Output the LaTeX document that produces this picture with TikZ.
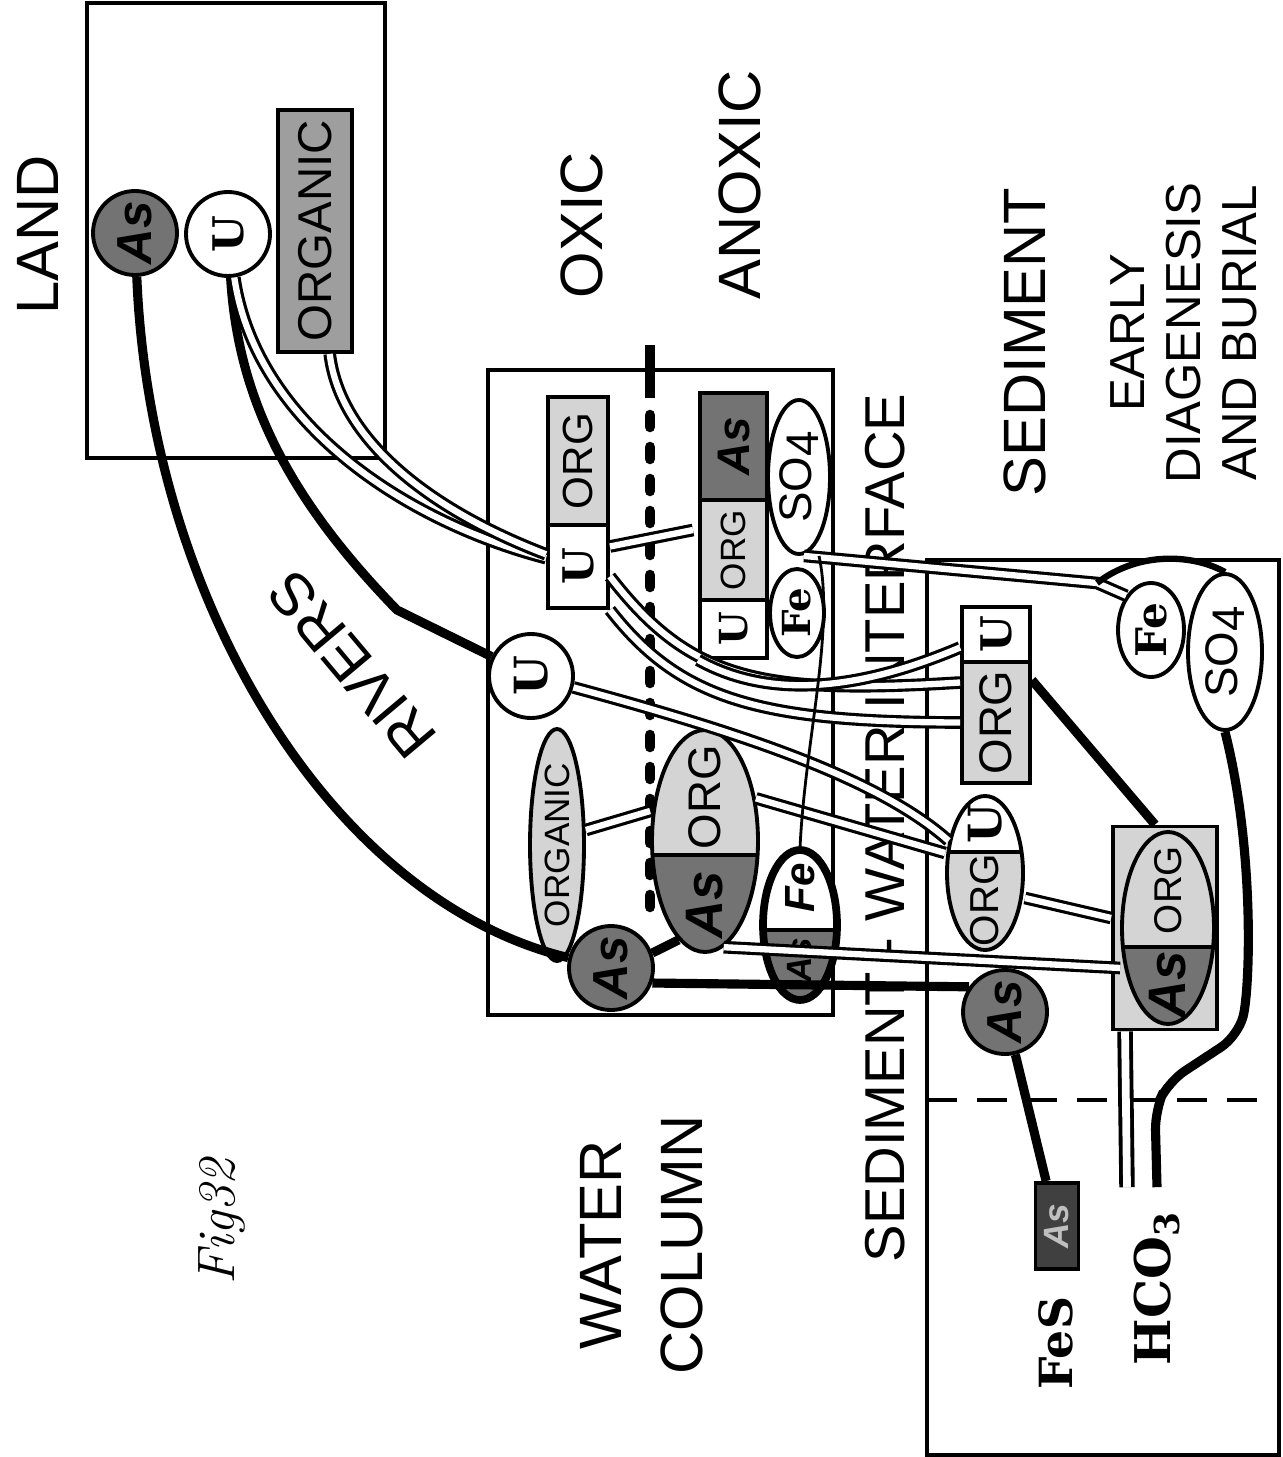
\documentclass[tikz,border=0pt]{standalone}
\usepackage{fontspec}
\setsansfont{Liberation Sans}
\newfontfamily\slab{DejaVu Serif}
\usepackage{graphicx}
\usetikzlibrary{shapes.geometric}
\colorlet{asdark}{black!55}
\colorlet{orgshade}{black!17}
\colorlet{orgland}{black!38}
\newcommand\RT[1]{\rotatebox{90}{#1}}
\newcommand\SPLITE[8]{
  \def\X{#2} \def\Y{#3} \def\RX{#4} \def\RY{#5}
  \node[oval,draw=none,fill=#7,minimum width=\RX*0.2mm,minimum height=\RY*0.2mm] (#1) at (\X,\Y) {};
  \begin{scope}
    \clip (\X,\Y) ellipse [x radius=\RX,y radius=\RY];
    \fill[#8] (\X-\RX,#6) rectangle (\X+\RX,\Y+\RY);
    \draw[line width=1pt] (\X-\RX,#6) -- (\X+\RX,#6);
  \end{scope}
  \draw[line width=1.1pt] (\X,\Y) ellipse [x radius=\RX,y radius=\RY];
}
\tikzset{
  frame/.style={draw,line width=1.1pt,inner sep=0},
  part/.style={draw,line width=1.1pt,inner sep=0,minimum width=#1},
  circ/.style={draw,circle,line width=1.1pt,inner sep=0,minimum size=8.4mm},
  oval/.style={draw,ellipse,line width=1.1pt,inner sep=0},
  big/.style={rotate=90,align=center,inner sep=0,font=\sffamily\fontsize{17}{23}\selectfont},
  sans/.style={font=\sffamily\fontsize{#1}{#1}\selectfont},
  slabf/.style={font=\slab\bfseries\fontsize{#1}{#1}\selectfont},
  hand/.style={font=\sffamily\bfseries\itshape\fontsize{#1}{#1}\selectfont},
  flow/.style={line width=2.6pt},
  dflow/.style={double,line width=0.9pt,double distance=1.8pt},
  hair/.style={line width=0.8pt}
}
\begin{document}
\begin{tikzpicture}[x=0.1mm,y=-0.1mm]
    \useasboundingbox (0,0) rectangle (1282,1457);
    \fill[white] (0,0) rectangle (1282,1457);
    \node[frame,minimum width=29.8mm,minimum height=45.5mm] (land) at (236,230.5) {};
    \node[frame,minimum width=34.5mm,minimum height=64.5mm] (water) at (660.5,692.5) {};
    \node[frame,minimum width=35.2mm,minimum height=89.5mm] (sed) at (1103,1007.5) {};
    \draw[line width=1.2pt,dash pattern=on 3mm off 2mm] (927,1100) -- (1279,1100);
    \draw[line width=3pt] (650,345) -- (650,398);
    \draw[line width=3pt,line cap=round,dash pattern=on 1.2mm off 2mm] (650,415) -- (650,925);
    \node[big] (tLand) at (38,235) {LAND};
    \node[big] (tOxic) at (582,225) {OXIC};
    \node[big] (tAnox) at (740,185) {ANOXIC};
    \node[big] (tSed) at (1025,342) {SEDIMENT};
    \node[big,font=\sffamily\fontsize{14}{16}\selectfont] (tDiag) at (1184,333) {EARLY\\DIAGENESIS\\AND BURIAL};
    \node[big] (tWater) at (642,1245) {WATER\\COLUMN};
    \node[big,font=\sffamily\fontsize{16}{16}\selectfont] (tSWI) at (885,828) {SEDIMENT - WATER INTERFACE};
    \node[big,rotate=40] (tRiv) at (352,665) {RIVERS};
    \node[rotate=90,font=\itshape\fontsize{15}{15}\selectfont] (tFig) at (222,1222) {Fig32};
    \node[circ,fill=asdark,hand=14] (lAs) at (135,233) {\RT{As}};
    \node[circ,slabf=12] (lU) at (228,234) {\RT{U}};
    \node[part=7.4mm,minimum height=24.2mm,fill=orgland,sans=13.5] (lOrg) at (315,231) {\RT{ORGANIC}};
    \node[part=6mm,minimum height=12.8mm,fill=orgshade,sans=12] (wUOrgO) at (578,461) {\RT{ORG}};
    \node[part=6mm,minimum height=8.3mm,slabf=12] (wUOrgU) at (578,566.5) {\RT{U}};
    \node[part=6.7mm,minimum height=10.7mm,fill=asdark,hand=13] (wTriA) at (733.5,446.5) {\RT{As}};
    \node[part=6.7mm,minimum height=10mm,fill=orgshade,sans=10] (wTriO) at (733.5,550) {\RT{ORG}};
    \node[part=6.7mm,minimum height=5.8mm,slabf=11] (wTriU) at (733.5,629) {\RT{U}};
    \node[oval,fill=white,minimum width=6.2mm,minimum height=15.4mm,sans=13] (wSO4) at (799,477) {\RT{SO\raisebox{-.3ex}{4}}};
    \node[oval,fill=white,minimum width=5.4mm,minimum height=8.8mm,slabf=11] (wFe) at (797,613) {\RT{Fe}};
    \node[circ,slabf=13] (wU) at (531,676) {\RT{U}};
    \node[oval,fill=orgshade,minimum width=5.4mm,minimum height=22.4mm,sans=10] (wOrganic) at (557,845) {\RT{ORGANIC}};
    \SPLITE{wOrgAs}{705}{841}{53}{111}{855}{orgshade}{asdark}
    \node[sans=13] (tOrgAsO) at (705,797) {\RT{ORG}};
    \node[hand=15] (tOrgAsA) at (705,905) {\RT{As}};
    \SPLITE{wFeAs}{800}{925}{37}{75}{930}{white}{asdark}
    \draw[line width=2.2pt] (wFeAs.center) ellipse [x radius=37,y radius=75];
    \node[hand=12] (tFeAsF) at (800,888) {\RT{Fe}};
    \node[hand=10] (tFeAsA) at (800,960) {\RT{As}};
    \node[circ,fill=asdark,hand=14] (wAs) at (611,968) {\RT{As}};
    \node[part=6.8mm,minimum height=5.5mm,slabf=12] (sOrgU) at (996,634.5) {\RT{U}};
    \node[part=6.8mm,minimum height=12.1mm,fill=orgshade,sans=13] (sOrgO) at (996,722.5) {\RT{ORG}};
    \node[oval,fill=white,minimum width=6.6mm,minimum height=9.4mm,slabf=12] (sFe) at (1151,630) {\RT{Fe}};
    \node[oval,fill=white,minimum width=7.4mm,minimum height=15.6mm,sans=13] (sSO4) at (1225,652) {\RT{SO\raisebox{-.3ex}{4}}};
    \SPLITE{sUOe}{985}{873}{38}{77}{852}{white}{orgshade}
    \node[slabf=13] (tUOeU) at (985,824) {\RT{U}};
    \node[sans=11.5] (tUOeO) at (985,900) {\RT{ORG}};
    \node[part=10.4mm,minimum height=20.3mm,fill=orgshade] (sOAbox) at (1165,928) {};
    \SPLITE{sOrgAs}{1168}{928}{46}{96}{947}{orgshade}{asdark}
    \node[sans=11] (tOAO) at (1168,890) {\RT{ORG}};
    \node[hand=15] (tOAA) at (1168,985) {\RT{As}};
    \node[circ,fill=asdark,hand=14] (sAs) at (1005,1012) {\RT{As}};
    \node[part=4.3mm,minimum height=8.6mm,fill=black!75,text=black!25,hand=10] (sFeS) at (1057,1226) {\RT{As}};
    \node[rotate=90,slabf=13] (tFeS) at (1056,1343) {FeS};
    \node[slabf=14,inner sep=2.3mm] (tHCO) at (1157,1288) {\RT{HCO\textsubscript{3}}};
    \draw[flow] (lAs) .. controls (150,600) and (330,900) .. (wAs);
    \draw[flow] (lU) .. controls (238,400) and (290,500) .. (397,610) -- (wU);
    \draw[dflow] (lU) .. controls (255,420) and (400,520) .. (wUOrgU);
    \draw[dflow] (lOrg) .. controls (340,440) and (430,510) .. (wUOrgU);
    \coordinate (oxEnd) at (693,530);
    \draw[dflow] ([yshift=2mm]wUOrgU.east) -- (oxEnd);
    \draw[dflow] ([yshift=-1mm]wUOrgU.east) .. controls (690,680) and (760,695) .. ([yshift=4mm]sOrgO.west);
    \draw[dflow] (wUOrgU.south east) .. controls (680,700) and (760,722) .. (sOrgO.west);
    \draw[dflow] (wTriU.south west) .. controls (770,700) and (860,690) .. ([yshift=-1.3mm]sOrgU.west);
    \draw[dflow] (wU) .. controls (750,735) and (880,780) .. (sUOe);
    \draw[dflow] (wOrgAs.40) -- ([yshift=2mm]sUOe.west);
    \draw[dflow] ([yshift=1.5mm]wOrganic.east) -- ([yshift=3mm]wOrgAs.west);
    \draw[dflow] ([yshift=-2.5mm]sUOe.east) -- ([yshift=1mm]sOAbox.west);
    \draw[flow] ([yshift=-2mm]sOrgO.north east) -- ([xshift=-1mm]sOAbox.north);
    \draw[flow] (wAs.20) -- (wOrgAs.255);
    \draw[dflow] (wOrgAs.-80) -- ([yshift=-4mm]sOrgAs.west);
    \draw[flow] (wAs.-20) -- (sAs.145);
    \coordinate (junc) at (1097,583);
    \draw[dflow] ([xshift=.5mm]wSO4.south) -- (junc) -- (sFe.126);
    \draw[flow,line width=1.8pt] (junc) .. controls (1140,550) and (1195,555) .. (sSO4.north);
    \draw[hair] ([xshift=2mm]wSO4.south) .. controls (835,630) and (805,740) .. (wFeAs.north);
    \draw[flow,rounded corners=2mm] (sSO4.south) .. controls (1255,850) and (1250,990) .. (1238,1036) -- (1168,1082) -- (1155,1110) -- (tHCO.north);
    \draw[dflow,line width=1.1pt,double distance=2.2pt] ([xshift=-4mm]sOAbox.south) -- ([xshift=-3mm]tHCO.north);
    \draw[flow] (sAs) -- (sFeS);
\end{tikzpicture}
\end{document}
